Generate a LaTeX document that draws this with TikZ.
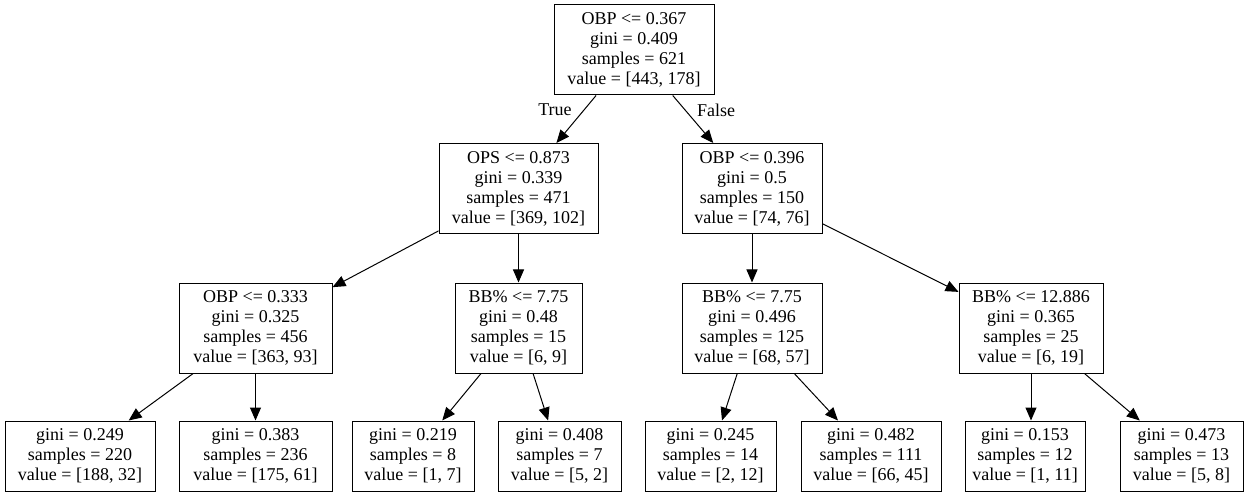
\documentclass[tikz,border=0pt]{standalone}
\usepackage{fontspec}
\setmainfont{Liberation Serif}
\usetikzlibrary{arrows.meta}
\begin{document}
\begin{tikzpicture}[x=1pt,y=-1pt,
  box/.style={draw, line width=1pt, rectangle, inner sep=0pt, align=center,
    font=\fontsize{18}{20}\selectfont},
  inner/.style={box, minimum height=90pt},
  leaf/.style={box, minimum height=70pt},
  edge/.style={line width=1pt, -{Triangle[length=13pt,width=11pt]}},
  lbl/.style={font=\fontsize{18}{20}\selectfont, inner sep=0pt}]
\useasboundingbox (0,0) rectangle (1248,497);
% level 1
\node[inner, minimum width=160pt] (root) at (634,50) {OBP <= 0.367\\gini = 0.409\\samples = 621\\value = [443, 178]};
% level 2
\node[inner, minimum width=159pt] (ops) at (518.5,188.5) {OPS <= 0.873\\gini = 0.339\\samples = 471\\value = [369, 102]};
\node[inner, minimum width=140pt] (obpb) at (752,188.5) {OBP <= 0.396\\gini = 0.5\\samples = 150\\value = [74, 76]};
% level 3
\node[inner, minimum width=153pt] (obpc) at (255.5,328) {OBP <= 0.333\\gini = 0.325\\samples = 456\\value = [363, 93]};
\node[inner, minimum width=127pt] (bba) at (518.5,328) {BB\% <= 7.75\\gini = 0.48\\samples = 15\\value = [6, 9]};
\node[inner, minimum width=140pt] (bbb) at (752,328) {BB\% <= 7.75\\gini = 0.496\\samples = 125\\value = [68, 57]};
\node[inner, minimum width=144pt] (bbc) at (1031,328) {BB\% <= 12.886\\gini = 0.365\\samples = 25\\value = [6, 19]};
% leaves
\node[leaf, minimum width=150pt] (l1) at (80,456) {gini = 0.249\\samples = 220\\value = [188, 32]};
\node[leaf, minimum width=153pt] (l2) at (255.5,456) {gini = 0.383\\samples = 236\\value = [175, 61]};
\node[leaf, minimum width=122pt] (l3) at (413,456) {gini = 0.219\\samples = 8\\value = [1, 7]};
\node[leaf, minimum width=123pt] (l4) at (559.5,456) {gini = 0.408\\samples = 7\\value = [5, 2]};
\node[leaf, minimum width=131pt] (l5) at (710.5,456) {gini = 0.245\\samples = 14\\value = [2, 12]};
\node[leaf, minimum width=140pt] (l6) at (871,456) {gini = 0.482\\samples = 111\\value = [66, 45]};
\node[leaf, minimum width=120pt] (l7) at (1025,456) {gini = 0.153\\samples = 12\\value = [1, 11]};
\node[leaf, minimum width=123pt] (l8) at (1181.5,456) {gini = 0.473\\samples = 13\\value = [5, 8]};
% edges
\draw[edge] (root) -- (ops);
\draw[edge] (root) -- (obpb);
\node[lbl] (t) at (555,110) {True};
\node[lbl] (f) at (716,110) {False};
\draw[edge] (ops) -- (obpc);
\draw[edge] (ops) -- (bba);
\draw[edge] (obpb) -- (bbb);
\draw[edge] (obpb) -- (bbc);
\draw[edge] (obpc) -- (l1);
\draw[edge] (obpc) -- (l2);
\draw[edge] (bba) -- (l3);
\draw[edge] (bba) -- (l4);
\draw[edge] (bbb) -- (l5);
\draw[edge] (bbb) -- (l6);
\draw[edge] (bbc.south) -- (bbc.south |- l7.north);
\draw[edge] (bbc) -- (l8);
\end{tikzpicture}
\end{document}
